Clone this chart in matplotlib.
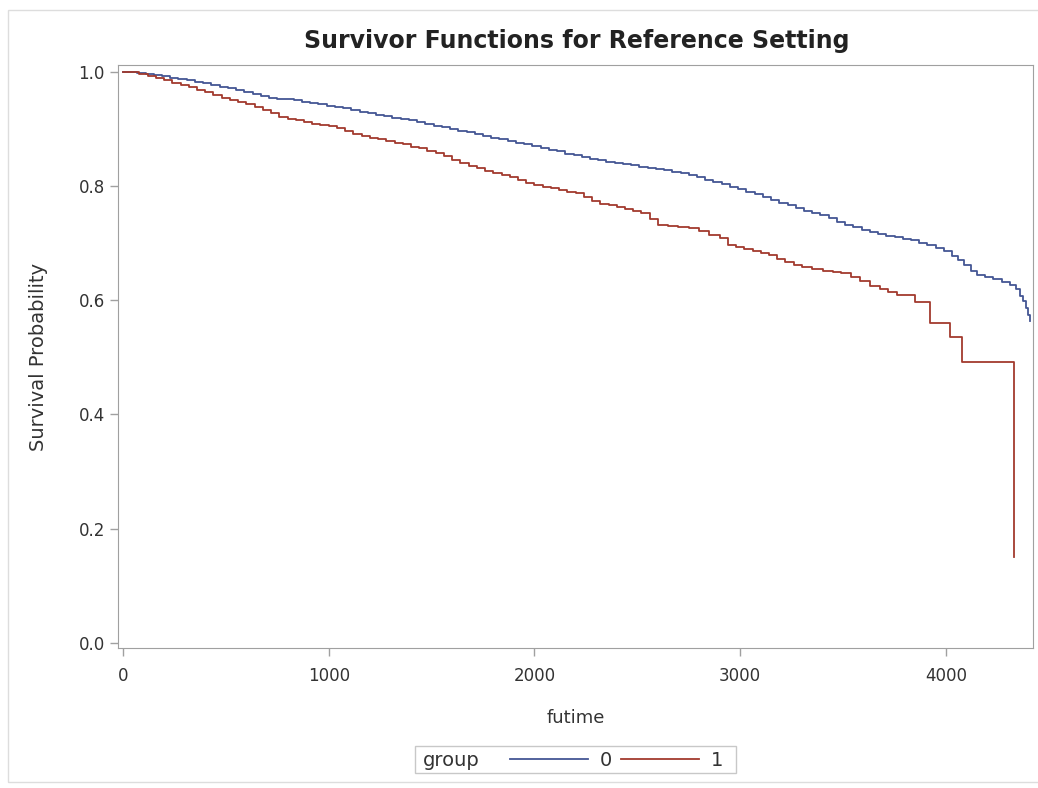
import matplotlib
matplotlib.use("Agg")
import matplotlib.pyplot as plt
from matplotlib.patches import Rectangle

# Kaplan-Meier estimates (step points), group 0
t0 = [0, 30, 70, 110, 150, 190, 230, 270, 310, 350,
      390, 430, 470, 510, 550, 590, 630, 670, 710, 750,
      790, 830, 870, 910, 950, 990, 1030, 1070, 1110, 1150,
      1190, 1230, 1270, 1310, 1350, 1390, 1430, 1470, 1510, 1550,
      1590, 1630, 1670, 1710, 1750, 1790, 1830, 1870, 1910, 1950,
      1990, 2030, 2070, 2110, 2150, 2190, 2230, 2270, 2310, 2350,
      2390, 2430, 2470, 2510, 2550, 2590, 2630, 2670, 2710, 2750,
      2790, 2830, 2870, 2910, 2950, 2990, 3030, 3070, 3110, 3150,
      3190, 3230, 3270, 3310, 3350, 3390, 3430, 3470, 3510, 3550,
      3590, 3630, 3670, 3710, 3750, 3790, 3830, 3870, 3910, 3950,
      3990, 4030, 4060, 4090, 4120, 4150, 4190, 4230, 4270, 4310,
      4340, 4360, 4375, 4390, 4400, 4410]
s0 = [1.000, 0.999, 0.998, 0.996, 0.994, 0.992, 0.990, 0.987, 0.985, 0.982,
      0.980, 0.977, 0.974, 0.971, 0.968, 0.965, 0.961, 0.958, 0.955, 0.953,
      0.952, 0.950, 0.948, 0.946, 0.944, 0.941, 0.939, 0.936, 0.933, 0.930,
      0.928, 0.925, 0.923, 0.920, 0.917, 0.915, 0.912, 0.909, 0.906, 0.903,
      0.900, 0.897, 0.894, 0.891, 0.888, 0.885, 0.882, 0.879, 0.876, 0.873,
      0.870, 0.867, 0.864, 0.861, 0.857, 0.854, 0.851, 0.848, 0.845, 0.843,
      0.840, 0.838, 0.836, 0.834, 0.832, 0.830, 0.828, 0.825, 0.822, 0.819,
      0.815, 0.811, 0.807, 0.803, 0.799, 0.794, 0.790, 0.786, 0.781, 0.776,
      0.771, 0.766, 0.761, 0.757, 0.753, 0.749, 0.744, 0.737, 0.731, 0.728,
      0.723, 0.719, 0.716, 0.713, 0.711, 0.708, 0.705, 0.701, 0.697, 0.692,
      0.686, 0.678, 0.670, 0.662, 0.652, 0.645, 0.641, 0.637, 0.632, 0.626,
      0.620, 0.608, 0.598, 0.586, 0.574, 0.563]

# group 1
t1 = [0, 40, 80, 120, 160, 200, 240, 280, 320, 360,
      400, 440, 480, 520, 560, 600, 640, 680, 720, 760,
      800, 840, 880, 920, 960, 1000, 1040, 1080, 1120, 1160,
      1200, 1240, 1280, 1320, 1360, 1400, 1440, 1480, 1520, 1560,
      1600, 1640, 1680, 1720, 1760, 1800, 1840, 1880, 1920, 1960,
      2000, 2040, 2080, 2120, 2160, 2200, 2240, 2280, 2320, 2360,
      2400, 2440, 2480, 2520, 2560, 2600, 2650, 2700, 2750, 2800,
      2850, 2900, 2940, 2980, 3020, 3060, 3100, 3140, 3180, 3220,
      3260, 3300, 3350, 3400, 3450, 3490, 3540, 3580, 3630, 3680,
      3720, 3760, 3850, 3920, 4020, 4080, 4330]
s1 = [1.000, 0.999, 0.996, 0.993, 0.989, 0.985, 0.981, 0.977, 0.973, 0.969,
      0.964, 0.959, 0.955, 0.951, 0.947, 0.943, 0.939, 0.934, 0.928, 0.921,
      0.918, 0.915, 0.912, 0.909, 0.907, 0.905, 0.901, 0.897, 0.892, 0.888,
      0.885, 0.882, 0.879, 0.876, 0.873, 0.869, 0.866, 0.862, 0.858, 0.853,
      0.846, 0.840, 0.835, 0.831, 0.827, 0.823, 0.819, 0.815, 0.811, 0.806,
      0.802, 0.799, 0.796, 0.793, 0.790, 0.787, 0.780, 0.773, 0.769, 0.766,
      0.763, 0.760, 0.756, 0.752, 0.742, 0.731, 0.730, 0.728, 0.727, 0.721,
      0.715, 0.709, 0.697, 0.694, 0.690, 0.686, 0.683, 0.680, 0.672, 0.667,
      0.661, 0.658, 0.654, 0.652, 0.650, 0.648, 0.641, 0.634, 0.625, 0.619,
      0.615, 0.610, 0.597, 0.561, 0.536, 0.492, 0.151]

groups = ['0', '1']
colors = ['#445694', '#A23A2E']
xticks = [0, 1000, 2000, 3000, 4000]
yticks = [0.0, 0.2, 0.4, 0.6, 0.8, 1.0]

plt.rcParams['font.family'] = ['DejaVu Sans']
W, H = 1038, 788
txt = '#333333'
fig = plt.figure(figsize=(W / 100, H / 100), dpi=100)
ax = fig.add_axes([118 / W, 1 - 648 / H, (1033 - 118) / W, (648 - 65) / H])

l0, = ax.plot(t0, s0, drawstyle='steps-post', color=colors[0], lw=1.3)
l1, = ax.plot(t1, s1, drawstyle='steps-post', color=colors[1], lw=1.3)

ax.set_xlim(-24, 4423)
ax.set_ylim(-0.009, 1.012)
ax.set_xticks(xticks)
ax.set_yticks(yticks)
ax.set_yticklabels([f'{v:.1f}' for v in yticks])
gray = '#A0A0A0'
for sp in ax.spines.values():
    sp.set_color(gray)
ax.tick_params(colors=gray, labelcolor=txt, labelsize=12, length=6, width=1)
ax.tick_params(axis='x', pad=8)
ax.set_xlabel('futime', fontsize=13, color=txt, labelpad=17)
ax.set_ylabel('Survival Probability', fontsize=14, color=txt, labelpad=22)

fig.text(577 / W, 1 - 41 / H, 'Survivor Functions for Reference Setting',
         ha='center', va='center', fontsize=17, fontweight='bold', color='#222222')

# legend box with inline "group" caption
fig.patches.append(Rectangle((415 / W, 1 - 773 / H), (736 - 415) / W, 27 / H,
                             transform=fig.transFigure, fill=False,
                             edgecolor='#C8C8C8', lw=1))
fig.text(423 / W, 1 - 760 / H, 'group', ha='left', va='center',
         fontsize=14, color=txt)
fig.legend([l0, l1], groups, loc='center left',
           bbox_to_anchor=(510 / W, 1 - 760 / H), ncol=2, frameon=False,
           borderpad=0, borderaxespad=0, handlelength=4.0, handletextpad=0.6,
           columnspacing=0.5, fontsize=14, labelcolor=txt)

# outer frame of the graph
fig.patches.append(Rectangle((8 / W, 1 - 782 / H), 1.0, (782 - 10) / H,
                             transform=fig.transFigure, fill=False,
                             edgecolor='#DDDDDD', lw=1))

fig.savefig('out.png', dpi=100)
